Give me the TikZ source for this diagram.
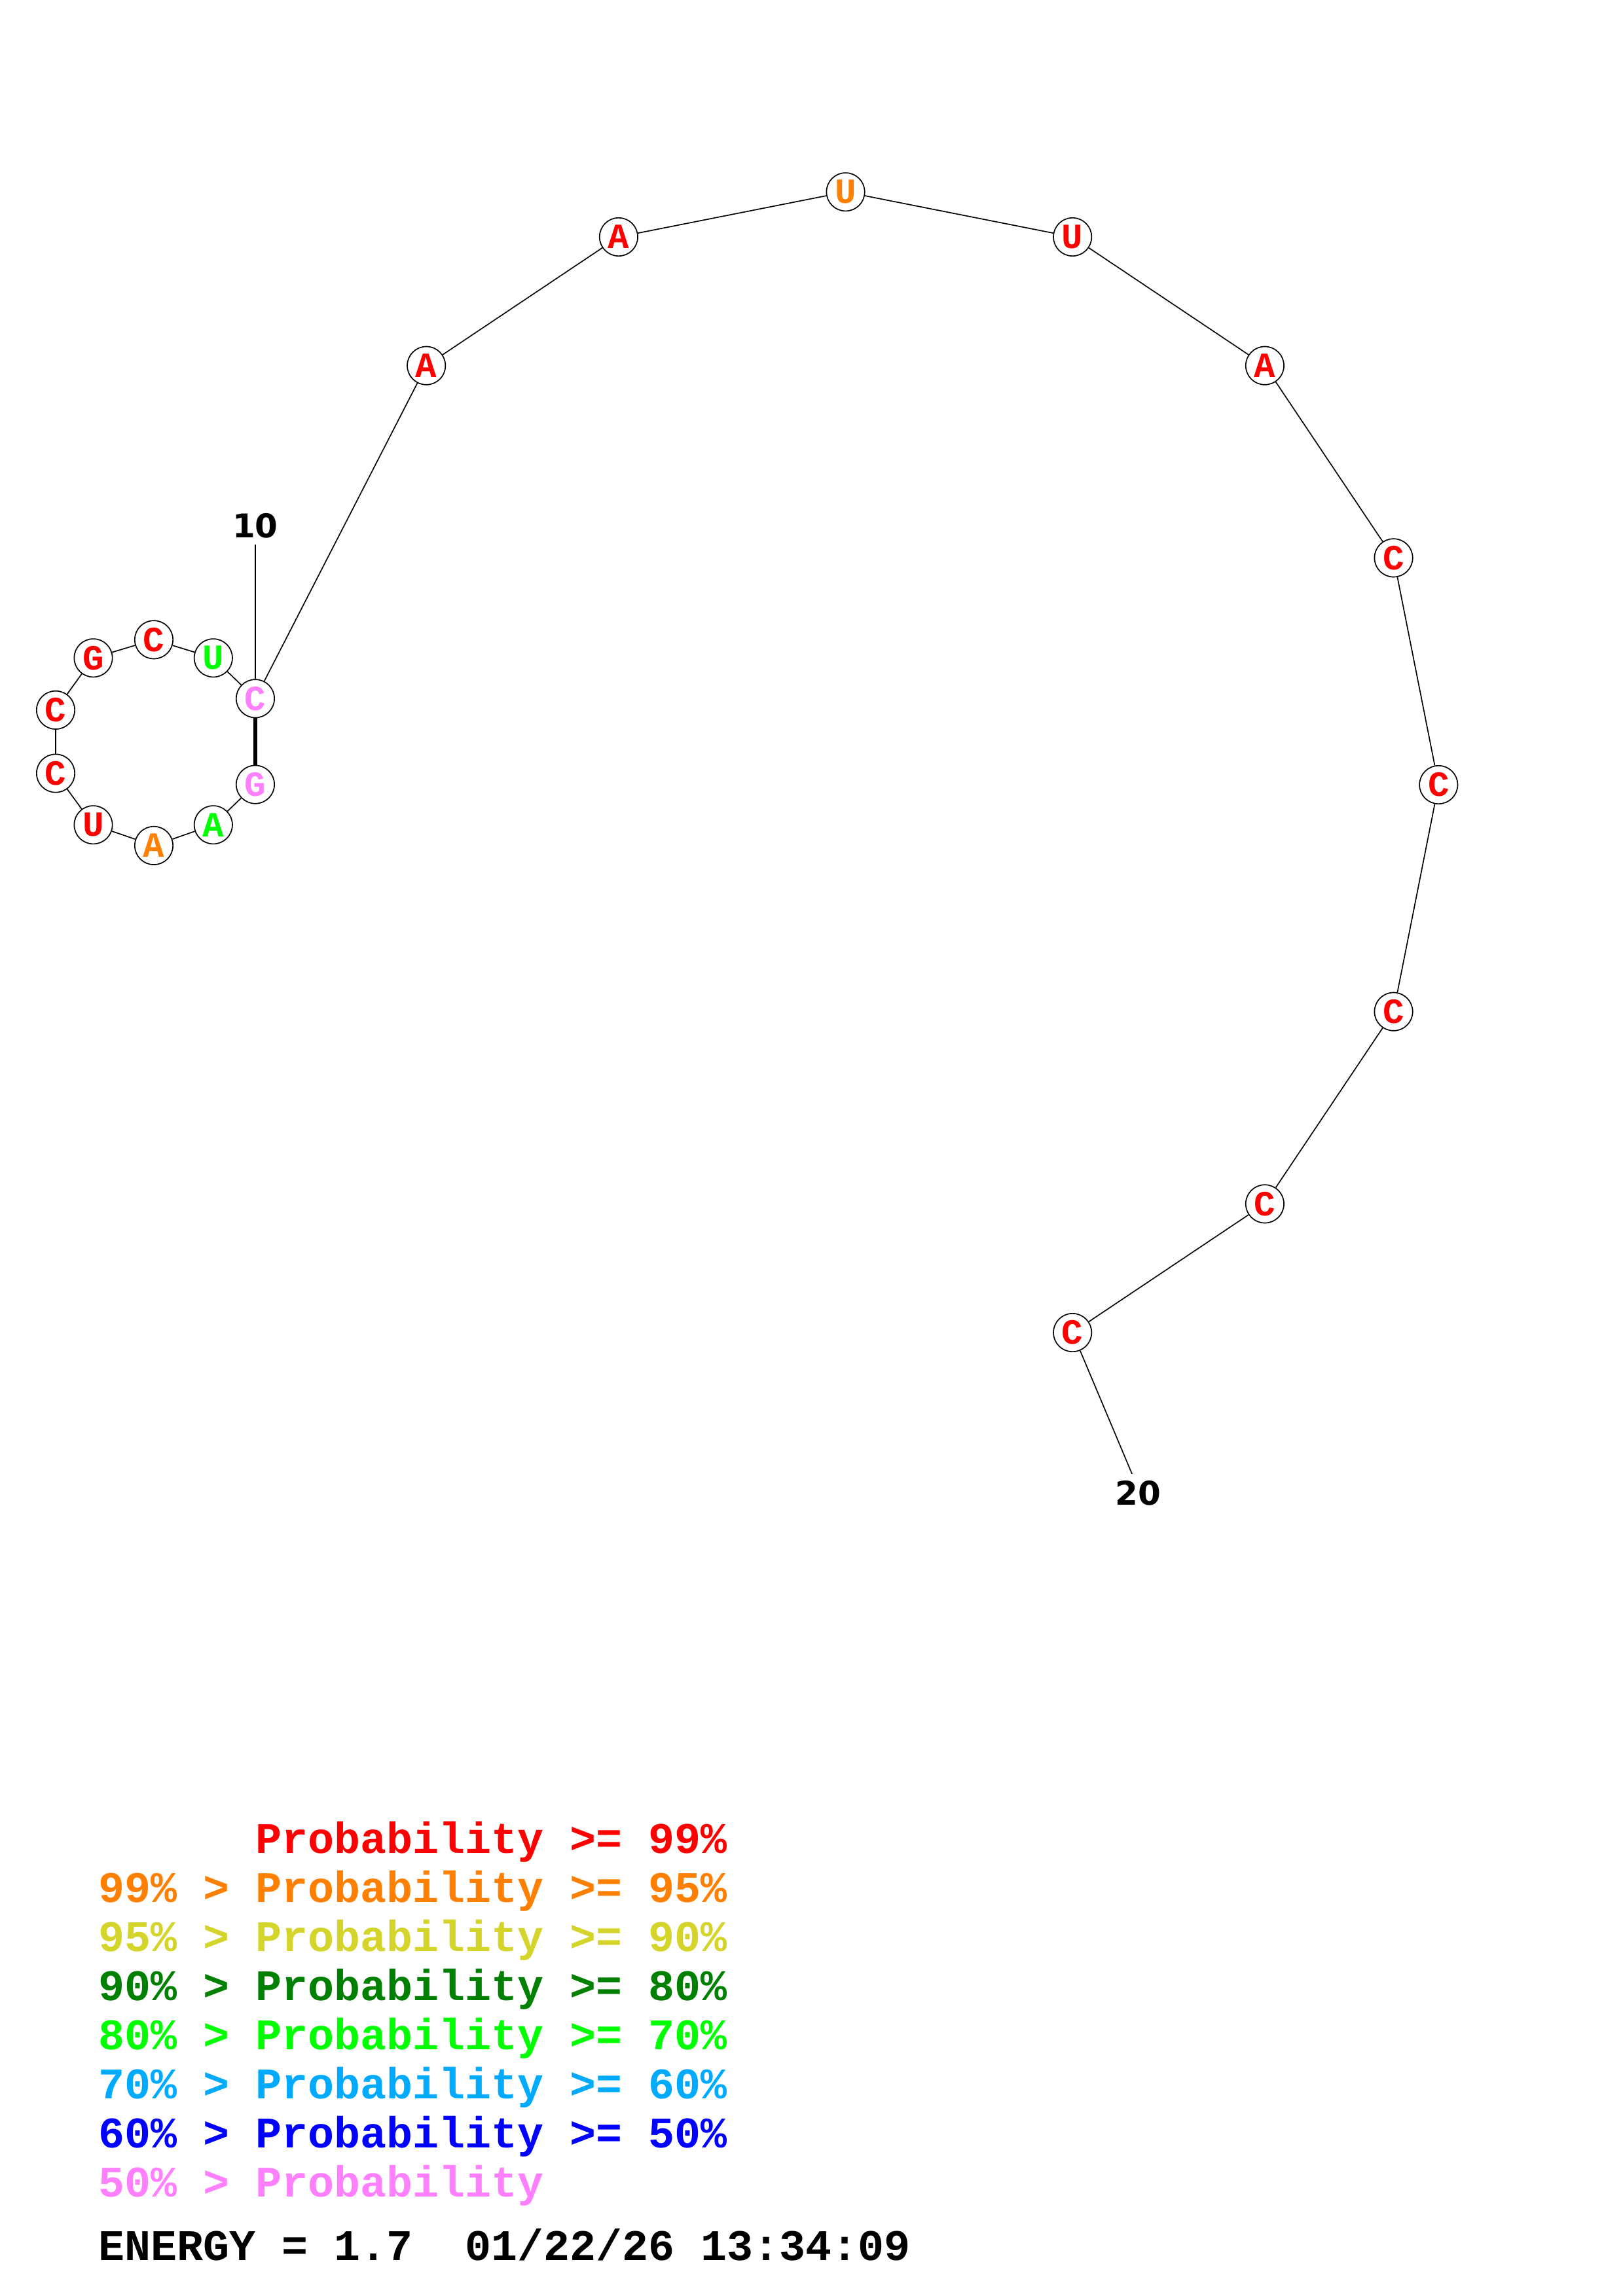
\documentclass[tikz,border=0pt]{standalone}
\usepackage{fontspec}
\setmonofont{Liberation Mono}
\setsansfont{DejaVu Sans}
\usetikzlibrary{positioning}
\definecolor{pHi}{RGB}{255,0,0}
\definecolor{pNF}{RGB}{255,128,0}
\definecolor{pNZ}{RGB}{212,212,42}
\definecolor{pEZ}{RGB}{0,128,0}
\definecolor{pSZ}{RGB}{0,255,0}
\definecolor{pSX}{RGB}{0,170,255}
\definecolor{pFZ}{RGB}{0,0,255}
\definecolor{pLo}{RGB}{255,128,255}

\begin{document}
\begin{tikzpicture}
[x=1pt,y=1pt,
base/.style={shape=circle,draw=black,line width=.4pt,fill=white,minimum size=14pt,inner sep=0pt,
  font=\fontsize{13}{13}\selectfont\ttfamily\bfseries},
bb/.style={line width=.4pt},
pair/.style={line width=1.6pt},
num/.style={anchor=base,font=\fontsize{12}{12}\selectfont\sffamily\bfseries},
legend/.style={anchor=base west,inner sep=0pt,font=\fontsize{16}{18}\selectfont\ttfamily\bfseries}]
\useasboundingbox (0,0) rectangle (595,842);
%%
% bases
%%
\foreach \i/\x/\y/\b/\c in {
1/93.6/554.3/G/pLo, 2/78.2/539.5/A/pSZ, 3/56.4/531.9/A/pNF, 4/34.2/539.5/U/pHi,
5/20.4/558.4/C/pHi, 6/20.4/581.6/C/pHi, 7/34.2/600.7/G/pHi, 8/56.4/607.4/C/pHi,
9/78.2/600.7/U/pSZ, 10/93.6/585.8/C/pLo, 11/156.3/707.9/A/pHi, 12/226.8/755.1/A/pHi,
13/310.0/771.6/U/pNF, 14/393.2/755.1/U/pHi, 15/463.7/707.9/A/pHi, 16/510.9/637.4/C/pHi,
17/527.4/554.2/C/pHi, 18/510.9/471.0/C/pHi, 19/463.7/400.5/C/pHi, 20/393.2/353.3/C/pHi}
  \node[base,text=\c] (n\i) at (\x,\y) {\b};
%%
% backbone and pair
%%
\foreach \i [count=\j from 2] in {1,...,19}
  \draw[bb] (n\i) -- (n\j);
\draw[pair] (n1) -- (n10);
%%
% numbers
%%
\coordinate (t10) at (93.6,642.2);
\coordinate (t20) at (415.0,301.5);
\node[num] (l10) at (93.6,644.9) {10};
\node[num] (l20) at (417.3,290.0) {20};
\draw[bb] (n10) -- (t10);
\draw[bb] (n20) -- (t20);
%%
% legend
%%
\node[legend,text=pHi] (k1) at (93.6,162.3) {Probability >= 99\%};
\foreach \r/\y/\c/\t in {2/144.3/pNF/99\% > Probability >= 95\%,
3/126.3/pNZ/95\% > Probability >= 90\%,
4/108.3/pEZ/90\% > Probability >= 80\%,
5/90.3/pSZ/80\% > Probability >= 70\%,
6/72.3/pSX/70\% > Probability >= 60\%,
7/54.3/pFZ/60\% > Probability >= 50\%,
8/36.3/pLo/50\% > Probability}
  \node[legend,text=\c] (k\r) at (36,\y) {\t};
\node[legend] (energy) at (36,13.1) {ENERGY = 1.7~~01/22/26 13:34:09};
\end{tikzpicture}
\end{document}
